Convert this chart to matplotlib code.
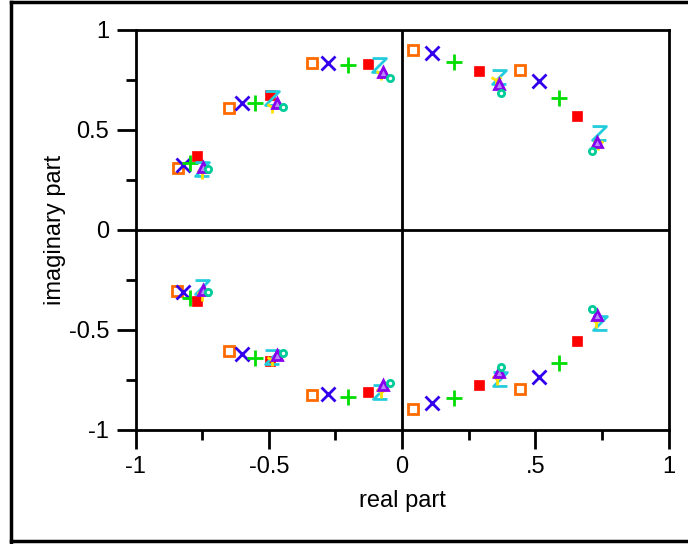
import matplotlib
matplotlib.use("Agg")
import matplotlib.pyplot as plt
from matplotlib.path import Path
from matplotlib.lines import Line2D
from matplotlib.ticker import MultipleLocator, FixedLocator

plt.rcParams['font.family'] = ['Liberation Sans', 'DejaVu Sans']

# ---- data (real, imaginary) per series ----
orange_re = [-0.839, -0.649, -0.339, 0.042, 0.443, -0.843, -0.648, -0.339, 0.042, 0.443]
orange_im = [0.308, 0.608, 0.833, 0.900, 0.800, -0.303, -0.603, -0.825, -0.895, -0.795]

blue_re = [-0.821, -0.602, -0.276, 0.114, 0.514, -0.821, -0.602, -0.276, 0.114, 0.514]
blue_im = [0.325, 0.637, 0.836, 0.883, 0.747, -0.312, -0.620, -0.822, -0.867, -0.733]

green_re = [-0.795, -0.552, -0.201, 0.196, 0.589, -0.795, -0.552, -0.201, 0.196, 0.589]
green_im = [0.337, 0.637, 0.825, 0.838, 0.658, -0.342, -0.642, -0.833, -0.842, -0.667]

red_re = [-0.768, -0.495, -0.126, 0.289, 0.655, -0.768, -0.495, -0.126, 0.289, 0.655]
red_im = [0.372, 0.675, 0.828, 0.795, 0.570, -0.353, -0.653, -0.808, -0.775, -0.553]

cyan_re = [-0.749, -0.487, -0.086, 0.364, 0.739, -0.752, -0.487, -0.083, 0.368, 0.743]
cyan_im = [0.305, 0.658, 0.825, 0.767, 0.483, -0.283, -0.637, -0.808, -0.745, -0.467]

yellow_re = [-0.752, -0.487, -0.079, 0.353, 0.734, -0.752, -0.487, -0.079, 0.355, 0.727]
yellow_im = [0.287, 0.617, 0.778, 0.750, 0.430, -0.325, -0.650, -0.808, -0.745, -0.458]

purple_re = [-0.745, -0.470, -0.070, 0.364, 0.730, -0.745, -0.470, -0.070, 0.364, 0.730]
purple_im = [0.313, 0.637, 0.788, 0.728, 0.438, -0.300, -0.625, -0.775, -0.708, -0.425]

teal_re = [-0.727, -0.445, -0.045, 0.371, 0.714, -0.727, -0.445, -0.045, 0.371, 0.714]
teal_im = [0.303, 0.617, 0.758, 0.683, 0.395, -0.308, -0.617, -0.763, -0.683, -0.397]

x_ticks = [-1, -0.5, 0, 0.5, 1]
x_ticklabels = ['-1', '-0.5', '0', '.5', '1']
y_ticks = [-1, -0.5, 0, 0.5, 1]
y_ticklabels = ['-1', '-0.5', '0', '0.5', '1']

# ---- figure ----
fig = plt.figure(figsize=(6.88, 5.44), dpi=100)
ax = fig.add_axes([135.5 / 688, 1 - 430 / 544, (668.5 - 135.5) / 688, 400 / 544])

ax.axhline(0, color='black', lw=2, zorder=1)
ax.axvline(0, color='black', lw=2, zorder=1)

z_marker = Path([(-1, 1), (1, 1), (-1, -1), (1, -1)],
                [Path.MOVETO, Path.LINETO, Path.LINETO, Path.LINETO])

ax.plot(orange_re, orange_im, ls='none', marker='s', ms=7, mfc='white',
        mec='#FF6A00', mew=2, zorder=3)
ax.plot(blue_re, blue_im, ls='none', marker='x', ms=10, mec='#3300EE',
        mew=2, zorder=3)
ax.plot(green_re, green_im, ls='none', marker='+', ms=11, mec='#00DD00',
        mew=2, zorder=3)
ax.plot(red_re, red_im, ls='none', marker='s', ms=6.5, mfc='#FF0000',
        mec='#FF0000', mew=0.5, zorder=3)
ax.plot(cyan_re, cyan_im, ls='none', marker=z_marker, ms=10, mfc='none',
        mec='#22CCDD', mew=2, zorder=4)
ax.plot(yellow_re, yellow_im, ls='none', marker='1', ms=9, mec='#FFE000',
        mew=2, zorder=5)
ax.plot(purple_re, purple_im, ls='none', marker='^', ms=7.5, mfc='#BB88FF',
        mec='#8800EE', mew=2, zorder=6)
ax.plot(teal_re, teal_im, ls='none', marker='o', ms=4.5, mfc='white',
        mec='#00CC99', mew=2, zorder=7)

ax.set_xlim(-1, 1)
ax.set_ylim(-1, 1)
ax.xaxis.set_major_locator(FixedLocator(x_ticks))
ax.set_xticklabels(x_ticklabels)
ax.yaxis.set_major_locator(FixedLocator(y_ticks))
ax.set_yticklabels(y_ticklabels)
ax.xaxis.set_minor_locator(MultipleLocator(0.25))
ax.yaxis.set_minor_locator(MultipleLocator(0.25))
ax.tick_params(which='major', direction='out', length=14, width=2,
               labelsize=17, pad=5, colors='black')
ax.tick_params(which='minor', direction='out', length=7, width=2)
for s in ax.spines.values():
    s.set_linewidth(2)

ax.set_xlabel('real part', fontsize=17, labelpad=8)
ax.set_ylabel('imaginary part', fontsize=17, labelpad=2)

# outer frame
fig.add_artist(Line2D([11 / 688, 11 / 688], [0.002, 0.996], color='black',
                      lw=2.5, transform=fig.transFigure))
fig.add_artist(Line2D([11 / 688, 1.01], [0.996, 0.996], color='black',
                      lw=2.5, transform=fig.transFigure))
fig.add_artist(Line2D([11 / 688, 1.01], [3 / 544, 3 / 544], color='black',
                      lw=2.5, transform=fig.transFigure))

fig.savefig('out.png', dpi=100)
